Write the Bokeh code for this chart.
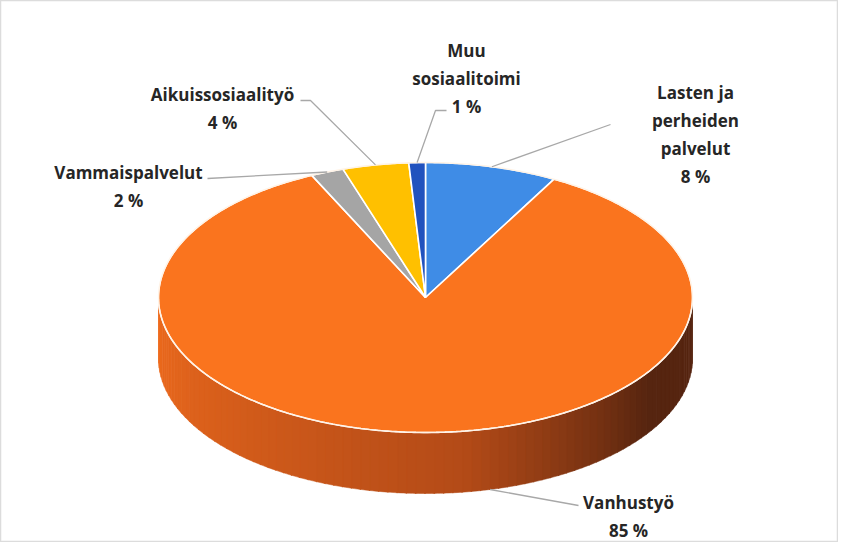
import numpy as np
from bokeh.plotting import figure
from bokeh.models import Range1d, ColumnDataSource
from bokeh.core.properties import value
from bokeh.embed import file_html
from bokeh.resources import INLINE

# ---- data (clockwise from 12 o'clock) ----
categories = ["Lasten ja perheiden palvelut", "Vanhustyö", "Vammaispalvelut",
              "Aikuissosiaalityö", "Muu sosiaalitoimi"]
shares = [8, 85, 2, 4, 1]
label_lines = [["Lasten ja", "perheiden", "palvelut", "8 %"],
               ["Vanhustyö", "85 %"],
               ["Vammaispalvelut", "2 %"],
               ["Aikuissosiaalityö", "4 %"],
               ["Muu", "sosiaalitoimi", "1 %"]]
colors = ["#3F8CE6", "#FA741E", "#A5A5A5", "#FFC000", "#2152BE"]

# ---- layout (pixel space) ----
W, H = 838, 542
cx, cy, rx, ry, depth = 425, 297, 267, 135, 61
label_pos = [(695, [92, 120, 148, 176]), (628, [502, 530]), (128, [172, 200]),
             (222, [94, 122]), (466, [50, 78, 106])]
leader_end = [[(610, 124)], [(578, 505)], [(207, 178)], [(310, 100), (300, 100)],
              [(435, 110), (446, 110)]]

p = figure(width=W, height=H, output_backend="svg", toolbar_location=None,
           x_range=Range1d(0, W), y_range=Range1d(H, 0),
           min_border=0, background_fill_color="white",
           outline_line_color="#DCDCDC", outline_line_width=1.5)
p.axis.visible = False
p.grid.visible = False


def ell(t, dy=0.0):
    return cx + rx * np.sin(t), cy - ry * np.cos(t) + dy

fr = np.array(shares, dtype=float) / sum(shares)
ends = np.cumsum(fr) * 2 * np.pi
starts = ends - fr * 2 * np.pi

# ---- side wall (front half, visible), drawn as gradient strips ----
n = 90
ts = np.linspace(np.pi / 2, 3 * np.pi / 2, n + 1)
dark = np.array([0x56, 0x25, 0x10])
mid = np.array([0xB4, 0x4B, 0x18])
light = np.array([0xF0, 0x6C, 0x1E])
xs_list, ys_list, cols = [], [], []
for i in range(n):
    a, b = ts[i], ts[i + 1] + 0.004
    seg = np.linspace(a, b, 4)
    xt, yt = ell(seg)
    xb, yb = ell(seg[::-1], depth)
    xs_list.append(list(xt) + list(xb))
    ys_list.append(list(yt) + list(yb))
    f = i / n
    if f < 0.18:
        c = dark
    elif f < 0.45:
        g = (f - 0.18) / 0.27
        c = dark * (1 - g) + mid * g
    else:
        g = (f - 0.45) / 0.55
        c = mid * (1 - g) + light * g
    c = np.asarray(c).astype(int)
    cols.append("#%02x%02x%02x" % tuple(c))
p.patches(xs_list, ys_list, fill_color=cols, line_color=cols, line_width=0.5)

# ---- top faces ----
for s, e, c in zip(starts, ends, colors):
    t = np.linspace(s, e, max(8, int((e - s) * 120)))
    x, y = ell(t)
    p.patch(list(x) + [cx], list(y) + [cy], fill_color=c,
            line_color="white", line_width=1.6)

# top outline highlight
tt = np.linspace(0, 2 * np.pi, 400)
x, y = ell(tt)
p.line(x, y, line_color="#FFF3E6", line_width=1.3)

# ---- leader lines & labels ----
mids = (starts + ends) / 2
font = value("Open Sans")
for i, (m, lines) in enumerate(zip(mids, label_lines)):
    if categories[i] == "Vanhustyö":
        sx, sy = ell(np.deg2rad(166), depth)
    else:
        sx, sy = ell(m)
    pts = [(sx, sy)] + leader_end[i]
    p.line([q[0] for q in pts], [q[1] for q in pts], line_color="#A8A8A8",
           line_width=1.3)
    lx, lys = label_pos[i]
    src = ColumnDataSource(dict(x=[lx] * len(lines), y=lys, t=lines))
    p.text(x="x", y="y", text="t", source=src, text_font=font,
           text_font_style="bold", text_font_size="17px", text_color="#262626",
           text_align="center", text_baseline="middle")

open("out.html", "w").write(file_html(p, INLINE))
